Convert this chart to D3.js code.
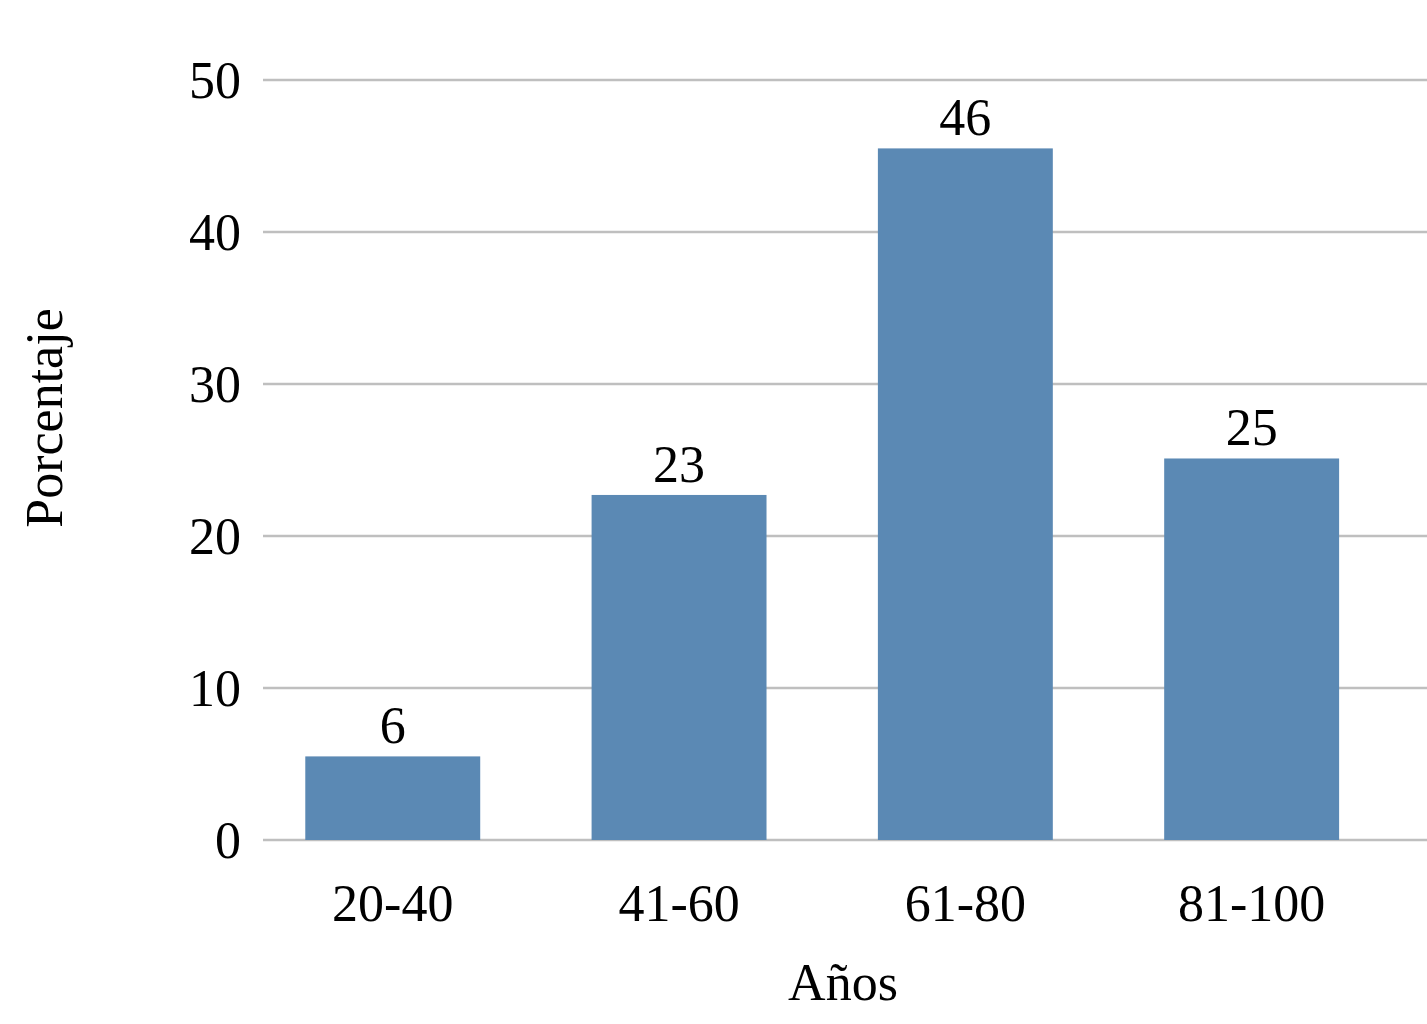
<!DOCTYPE html>
<html>
<head>
<meta charset="utf-8">
<script src="https://cdn.jsdelivr.net/npm/d3@7"></script>
<style>
html,body{margin:0;padding:0;background:#fff;}
svg{display:block;}
text{font-family:"Liberation Serif","Times New Roman",serif;fill:#000;}
</style>
</head>
<body>
<svg id="chart" width="1427" height="1024"></svg>
<script>
const categories = ["20-40", "41-60", "61-80", "81-100"];
const values = [5.5, 22.7, 45.5, 25.1];
const valueLabels = ["6", "23", "46", "25"];
const yTicks = [0, 10, 20, 30, 40, 50];
const xTitle = "Años";
const yTitle = "Porcentaje";

const svg = d3.select("#chart");
const fontSize = 52;

const y = d3.scaleLinear().domain([0, 50]).range([840, 80]);
const x = d3.scaleBand().domain(categories).range([249.6, 1394.8])
  .paddingInner(0.389).paddingOuter(0.389 / 2);

const gridX0 = 263, gridX1 = 1427;

// gridlines
svg.append("g").selectAll("line").data(yTicks).join("line")
  .attr("x1", gridX0).attr("x2", gridX1)
  .attr("y1", d => y(d)).attr("y2", d => y(d))
  .attr("stroke", "#bfbfbf").attr("stroke-width", 2.5);

// y tick labels
svg.append("g").selectAll("text").data(yTicks).join("text")
  .attr("x", 241).attr("y", d => y(d))
  .attr("dy", "0.34em")
  .attr("text-anchor", "end")
  .attr("font-size", fontSize)
  .text(d => d);

// bars
svg.append("g").selectAll("rect").data(values).join("rect")
  .attr("x", (d, i) => x(categories[i]))
  .attr("width", x.bandwidth())
  .attr("y", d => y(d))
  .attr("height", d => y(0) - y(d))
  .attr("fill", "#5b89b4");

// value labels
svg.append("g").selectAll("text").data(values).join("text")
  .attr("x", (d, i) => x(categories[i]) + x.bandwidth() / 2)
  .attr("y", d => y(d) - 13)
  .attr("text-anchor", "middle")
  .attr("font-size", fontSize)
  .text((d, i) => valueLabels[i]);

// x tick labels
svg.append("g").selectAll("text").data(categories).join("text")
  .attr("x", d => x(d) + x.bandwidth() / 2)
  .attr("y", 921)
  .attr("text-anchor", "middle")
  .attr("font-size", fontSize)
  .text(d => d);

// axis titles
svg.append("text")
  .attr("x", 843).attr("y", 1000)
  .attr("text-anchor", "middle")
  .attr("font-size", fontSize)
  .text(xTitle);

svg.append("text")
  .attr("transform", "translate(62,418) rotate(-90)")
  .attr("text-anchor", "middle")
  .attr("font-size", fontSize)
  .text(yTitle);
</script>
</body>
</html>
